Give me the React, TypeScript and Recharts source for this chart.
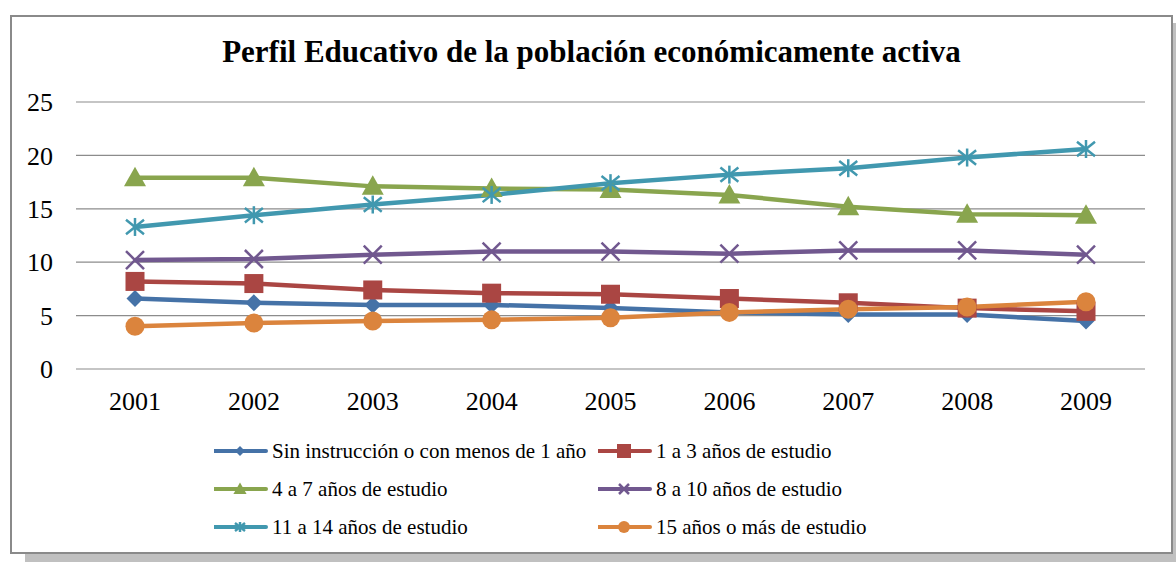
import React from 'react';
import { LineChart, Line, XAxis, YAxis, CartesianGrid } from 'recharts';

const years = ['2001', '2002', '2003', '2004', '2005', '2006', '2007', '2008', '2009'];
const sinInstruccion = [6.6, 6.2, 6.0, 6.0, 5.7, 5.3, 5.1, 5.1, 4.5];
const unoATres = [8.2, 8.0, 7.4, 7.1, 7.0, 6.6, 6.2, 5.7, 5.4];
const cuatroASiete = [17.9, 17.9, 17.1, 16.9, 16.8, 16.3, 15.2, 14.5, 14.4];
const ochoADiez = [10.2, 10.3, 10.7, 11.0, 11.0, 10.8, 11.1, 11.1, 10.7];
const onceACatorce = [13.3, 14.4, 15.4, 16.3, 17.4, 18.2, 18.8, 19.8, 20.6];
const quinceOMas = [4.0, 4.3, 4.5, 4.6, 4.8, 5.3, 5.6, 5.8, 6.3];
const yTicks = [0, 5, 10, 15, 20, 25];

type Shape = 'diamond' | 'square' | 'triangle' | 'x' | 'star' | 'circle';

const series: { key: string; name: string; color: string; shape: Shape; values: number[] }[] = [
    { key: 's1', name: 'Sin instrucción o con menos de 1 año', color: '#4572A7', shape: 'diamond', values: sinInstruccion },
    { key: 's2', name: '1 a 3 años de estudio', color: '#AA4643', shape: 'square', values: unoATres },
    { key: 's3', name: '4 a 7 años de estudio', color: '#89A54E', shape: 'triangle', values: cuatroASiete },
    { key: 's4', name: '8 a 10 años de estudio', color: '#71588F', shape: 'x', values: ochoADiez },
    { key: 's5', name: '11 a 14 años de estudio', color: '#4198AF', shape: 'star', values: onceACatorce },
    { key: 's6', name: '15 años o más de estudio', color: '#DB843D', shape: 'circle', values: quinceOMas },
];

const data = years.map((year, i) => {
    const row: any = { year };
    series.forEach((s) => { row[s.key] = s.values[i]; });
    return row;
});

const SERIF = '"Liberation Serif", "Times New Roman", serif';

function Marker({ shape, cx, cy, color, s }: { shape: Shape; cx: number; cy: number; color: string; s: number }) {
    if (cx == null || cy == null) return null;
    switch (shape) {
        case 'diamond':
            return <polygon points={`${cx},${cy - s} ${cx + s},${cy} ${cx},${cy + s} ${cx - s},${cy}`} fill={color} />;
        case 'square':
            return <rect x={cx - s} y={cy - s} width={s * 2} height={s * 2} fill={color} />;
        case 'triangle':
            return <polygon points={`${cx},${cy - s * 1.1} ${cx + s * 1.1},${cy + s * 0.85} ${cx - s * 1.1},${cy + s * 0.85}`} fill={color} />;
        case 'x':
            return (
                <g stroke={color} strokeWidth={2.5}>
                    <line x1={cx - s} y1={cy - s} x2={cx + s} y2={cy + s} />
                    <line x1={cx - s} y1={cy + s} x2={cx + s} y2={cy - s} />
                </g>
            );
        case 'star':
            return (
                <g stroke={color} strokeWidth={2.5}>
                    <line x1={cx - s} y1={cy - s * 0.8} x2={cx + s} y2={cy + s * 0.8} />
                    <line x1={cx - s} y1={cy + s * 0.8} x2={cx + s} y2={cy - s * 0.8} />
                    <line x1={cx} y1={cy - s} x2={cx} y2={cy + s} />
                </g>
            );
        default:
            return <circle cx={cx} cy={cy} r={s} fill={color} />;
    }
}

const markerSize: Record<Shape, number> = { diamond: 8.5, square: 9.5, triangle: 10, x: 9, star: 9, circle: 9.5 };
const legendSize: Record<Shape, number> = { diamond: 5, square: 7, triangle: 6, x: 5, star: 5, circle: 6 };

function LegendItem({ s }: { s: (typeof series)[number] }) {
    return (
        <div style={{ display: 'flex', alignItems: 'center', height: 38 }}>
            <svg width={56} height={20}>
                <line x1={0} y1={10} x2={52} y2={10} stroke={s.color} strokeWidth={4} strokeLinecap="round" />
                <Marker shape={s.shape} cx={26} cy={10} color={s.color} s={legendSize[s.shape]} />
            </svg>
            <span style={{ marginLeft: 2, fontFamily: SERIF, fontSize: 21, color: '#000', whiteSpace: 'nowrap' }}>{s.name}</span>
        </div>
    );
}

export default function App() {
    return (
        <div style={{ position: 'absolute', left: 0, top: 0, width: 1176, height: 562, background: '#fff', overflow: 'hidden' }}>
            <div
                style={{
                    position: 'absolute',
                    left: 10,
                    top: 15,
                    width: 1159,
                    height: 535,
                    border: '2px solid #8a8a8a',
                    boxShadow: '15px 8px 0 #c0c0c0',
                    background: '#fff',
                }}
            />
            <div
                style={{
                    position: 'absolute',
                    left: 10,
                    width: 1163,
                    top: 34,
                    textAlign: 'center',
                    fontFamily: SERIF,
                    fontWeight: 'bold',
                    fontSize: 31,
                    color: '#000',
                }}
            >
                Perfil Educativo de la población económicamente activa
            </div>
            <div style={{ position: 'absolute', left: 0, top: 0 }}>
                <LineChart width={1176} height={440} data={data} margin={{ top: 102, right: 31, left: 26, bottom: 31 }}>
                    <CartesianGrid horizontal vertical={false} stroke="#8c8c8c" strokeWidth={1.2} />
                    <XAxis
                        dataKey="year"
                        axisLine={false}
                        tickLine={false}
                        tickSize={0}
                        tickMargin={23}
                        height={40}
                        interval={0}
                        padding={{ left: 59, right: 59 }}
                        tick={{ fontFamily: SERIF, fontSize: 26, fill: '#000' }}
                    />
                    <YAxis
                        domain={[0, 25]}
                        ticks={yTicks}
                        axisLine={false}
                        tickLine={false}
                        tickSize={0}
                        tickMargin={23}
                        width={50}
                        tick={{ fontFamily: SERIF, fontSize: 26, fill: '#000' }}
                    />
                    {series.map((s) => (
                        <Line
                            key={s.key}
                            dataKey={s.key}
                            name={s.name}
                            stroke={s.color}
                            strokeWidth={4.5}
                            isAnimationActive={false}
                            dot={(p: any) => (
                                <Marker key={`${s.key}-${p.index}`} shape={s.shape} cx={p.cx} cy={p.cy} color={s.color} s={markerSize[s.shape]} />
                            )}
                            activeDot={false}
                        />
                    ))}
                </LineChart>
            </div>
            <div style={{ position: 'absolute', left: 214, top: 432, display: 'grid', gridTemplateColumns: '384px 300px' }}>
                {series.map((s) => (
                    <LegendItem key={s.key} s={s} />
                ))}
            </div>
        </div>
    );
}
